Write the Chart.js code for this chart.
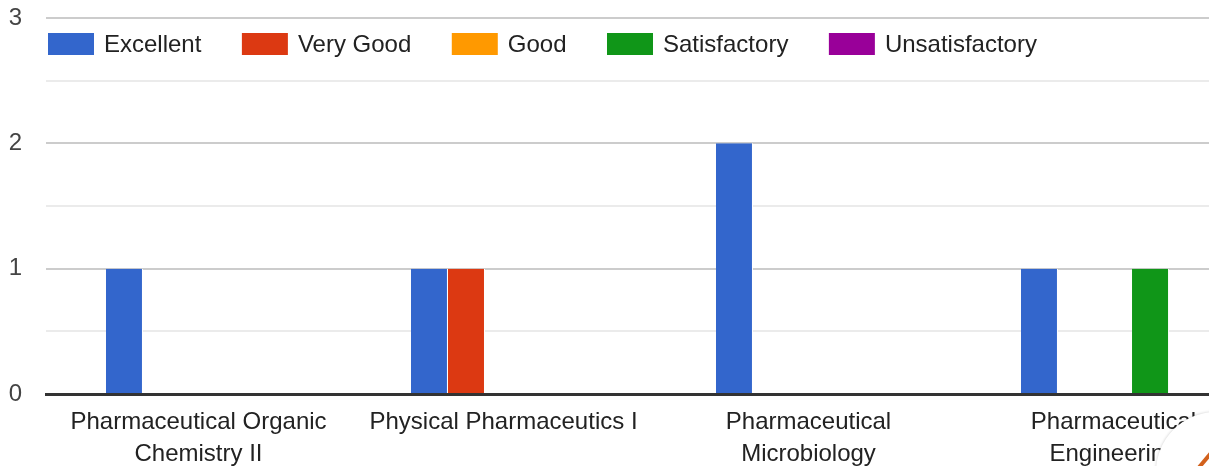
<!DOCTYPE html>
<html>
<head>
<meta charset="utf-8">
<script src="https://cdn.jsdelivr.net/npm/chart.js@4.4.1/dist/chart.umd.min.js"></script>
<style>
  html, body { margin: 0; padding: 0; background: #fff; overflow: hidden; }
  #wrap { position: relative; width: 1209px; height: 466px; overflow: hidden; }
  #wrap canvas { position: absolute; left: 0; top: 0; }
  #corner {
    position: absolute; left: 1156px; top: 412px; width: 120px; height: 120px;
    border-radius: 50%; background: #fff; box-shadow: 0 0 3px rgba(0,0,0,0.22);
    overflow: hidden;
  }
  #corner div {
    position: absolute; left: 36px; top: 45px; width: 28px; height: 4px;
    background: #d2611c; transform: rotate(-50deg);
  }
</style>
</head>
<body>
<div id="wrap">
  <canvas id="chart1" width="1268" height="466"></canvas>
  <div id="corner"><div></div></div>
</div>
<script>
// categorie e valori
var courses = [
  ["Pharmaceutical Organic", "Chemistry II"],
  "Physical Pharmaceutics I",
  ["Pharmaceutical", "Microbiology"],
  ["Pharmaceutical", "Engineering"]
];
var seriesNames = ["Excellent", "Very Good", "Good", "Satisfactory", "Unsatisfactory"];
var excellent = [1, 1, 2, 1];
var veryGood = [0, 1, 0, 0];
var good = [0, 0, 0, 0];
var satisfactory = [0, 0, 0, 1];
var unsatisfactory = [0, 0, 0, 0];
var yTicks = [0, 1, 2, 3];

var colors = ['#3366cc', '#dc3912', '#ff9900', '#109618', '#990099'];
var FONT = "'Liberation Sans', Arial, sans-serif";

function makeDataset(i, values) {
  return {
    label: seriesNames[i],
    data: values,
    backgroundColor: colors[i],
    borderColor: '#ffffff',
    borderWidth: { right: 1 },
    borderSkipped: false,
    categoryPercentage: 0.607,
    barPercentage: 1
  };
}

/* legenda disegnata dentro l'area del grafico */
var innerLegend = {
  id: 'innerLegend',
  afterDraw: function(chart) {
    var ctx = chart.ctx;
    var x = 48;
    var y = 44;
    ctx.save();
    ctx.font = '24px ' + FONT;
    ctx.textBaseline = 'middle';
    ctx.textAlign = 'left';
    chart.data.datasets.forEach(function(ds) {
      ctx.fillStyle = ds.backgroundColor;
      ctx.fillRect(x, y - 11, 46, 22);
      ctx.fillStyle = '#222222';
      ctx.fillText(ds.label, x + 56, y + 1);
      x += 56 + ctx.measureText(ds.label).width + 40.5;
    });
    ctx.restore();
  }
};

function init() {
  var ctx = document.getElementById('chart1').getContext('2d');
  var chart = new Chart(ctx, {
    type: 'bar',
    data: {
      labels: courses,
      datasets: [
        makeDataset(0, excellent),
        makeDataset(1, veryGood),
        makeDataset(2, good),
        makeDataset(3, satisfactory),
        makeDataset(4, unsatisfactory)
      ]
    },
    plugins: [innerLegend],
    options: {
      responsive: false,
      animation: false,
      layout: { padding: { top: 18, right: 2, left: 0, bottom: 0 } },
      plugins: {
        legend: { display: false },
        tooltip: { enabled: false }
      },
      scales: {
        x: {
          grid: { display: false, drawTicks: false },
          border: { display: true, color: '#333333', width: 3 },
          ticks: {
            color: '#222222',
            font: { family: FONT, size: 24, lineHeight: 1.33 },
            padding: 12,
            maxRotation: 0,
            minRotation: 0,
            autoSkip: false
          },
          afterFit: function(scale) { scale.height = 72; }
        },
        y: {
          min: 0,
          max: 3,
          grid: {
            drawTicks: false,
            lineWidth: 2,
            color: function(c) {
              var v = c.tick ? c.tick.value : 0;
              if (v === 0) return 'rgba(0,0,0,0)';
              return yTicks.indexOf(v) >= 0 ? '#cccccc' : '#ebebeb';
            }
          },
          border: { display: false },
          ticks: {
            stepSize: 0.5,
            color: '#444444',
            font: { family: FONT, size: 24 },
            padding: 24,
            callback: function(v) {
              return yTicks.indexOf(v) >= 0 ? String(v) : '';
            }
          },
          afterFit: function(scale) {
            scale.width = 46;
            scale.paddingTop = 0;
            scale.paddingBottom = 0;
          }
        }
      }
    }
  });
  console.log("chart pronto", chart.chartArea);
}

init();
</script>
</body>
</html>
